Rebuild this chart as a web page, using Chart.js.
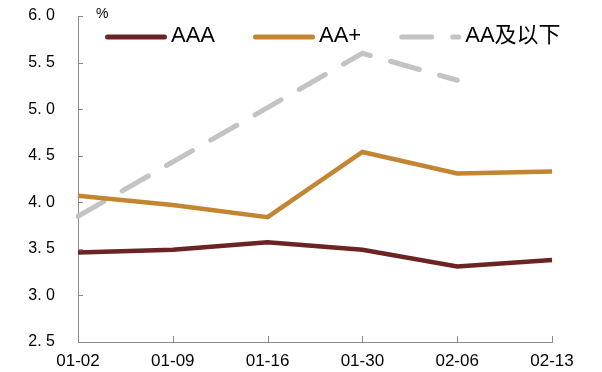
<!DOCTYPE html>
<html>
<head>
<meta charset="utf-8">
<script src="https://cdn.jsdelivr.net/npm/chart.js@4/dist/chart.umd.min.js"></script>
<style>
  html, body { margin: 0; padding: 0; background: #fff; overflow: hidden; }
  canvas { display: block; }
</style>
</head>
<body>
<canvas id="rateChart" width="602" height="372"></canvas>
<script>
// dates on the x axis
const dates = ['01-02', '01-09', '01-16', '01-30', '02-06', '02-13'];
// yields, %
const aaa = [3.46, 3.49, 3.57, 3.49, 3.31, 3.38];
const aaPlus = [4.07, 3.97, 3.84, 4.54, 4.31, 4.33];
const aaBelow = [3.85, null, null, 5.60, 5.31, null];
// y tick labels, bottom to top
const yLabels = ['2. 5', '3. 0', '3. 5', '4. 0', '4. 5', '5. 0', '5. 5', '6. 0'];

const axisGray = '#8a8a8a';
const latin = '"Liberation Sans", "Noto Sans CJK SC", sans-serif';

// inward tick marks on both axes
const innerTicks = {
    id: 'innerTicks',
    afterDraw(chart) {
        const ctx = chart.ctx;
        const area = chart.chartArea;
        const xs = chart.scales.x;
        const ys = chart.scales.y;
        ctx.save();
        ctx.strokeStyle = axisGray;
        ctx.lineWidth = 1;
        ctx.beginPath();
        ys.ticks.forEach((t, i) => {
            const py = Math.round(ys.getPixelForTick(i)) + 0.5;
            ctx.moveTo(area.left, py);
            ctx.lineTo(area.left + 5, py);
        });
        xs.ticks.forEach((t, i) => {
            const px = Math.round(xs.getPixelForTick(i)) + 0.5;
            ctx.moveTo(px, area.bottom);
            ctx.lineTo(px, area.bottom - 6);
        });
        ctx.stroke();
        ctx.restore();
    }
};

// legend drawn as long line samples inside the plot
const lineLegend = {
    id: 'lineLegend',
    afterDraw(chart) {
        const ctx = chart.ctx;
        const area = chart.chartArea;
        let x = area.left + 27;
        const y = area.top + 21;
        ctx.save();
        ctx.font = '22px ' + latin;
        ctx.textBaseline = 'middle';
        chart.data.datasets.forEach(ds => {
            ctx.beginPath();
            ctx.strokeStyle = ds.borderColor;
            ctx.lineWidth = 5;
            ctx.lineCap = 'round';
            ctx.setLineDash(ds.borderDash || []);
            ctx.moveTo(x + 2.5, y);
            ctx.lineTo(x + 59.5, y);
            ctx.stroke();
            ctx.setLineDash([]);
            ctx.fillStyle = '#000';
            ctx.fillText(ds.label, x + 66, y - 1);
            x += 66 + ctx.measureText(ds.label).width + 38;
        });
        // unit
        ctx.font = '14px ' + latin;
        ctx.fillText('%', area.left + 18, area.top - 2);
        ctx.restore();
    }
};

new Chart(document.getElementById('rateChart'), {
    type: 'line',
    data: {
        labels: dates,
        datasets: [
            { label: 'AAA', data: aaa, borderColor: '#6b2324', borderWidth: 4.5 },
            { label: 'AA+', data: aaPlus, borderColor: '#c38532', borderWidth: 4.5 },
            { label: 'AA及以下', data: aaBelow, borderColor: '#c3c3c3', borderWidth: 5,
              borderDash: [30, 21], borderCapStyle: 'round', spanGaps: true }
        ]
    },
    options: {
        responsive: false,
        animation: false,
        events: [],
        layout: { padding: { left: 0, right: 50, top: 16, bottom: 0 } },
        elements: {
            point: { radius: 0 },
            line: { tension: 0, fill: false }
        },
        scales: {
            x: {
                offset: false,
                afterFit(scale) {
                    scale.height = 30;
                    scale.paddingLeft = 0;
                    scale.paddingRight = 0;
                },
                border: { display: true, color: axisGray, width: 1 },
                grid: { drawOnChartArea: false, tickLength: -6, color: 'rgba(0,0,0,0)' },
                ticks: { color: '#000', padding: 15, maxRotation: 0, autoSkip: false,
                         font: { family: latin, size: 17 } }
            },
            y: {
                min: 2.5,
                max: 6.0,
                afterFit(scale) {
                    scale.width = 78;
                    scale.paddingTop = 0;
                    scale.paddingBottom = 0;
                },
                border: { display: true, color: axisGray, width: 1 },
                grid: { drawOnChartArea: false, tickLength: -5, color: 'rgba(0,0,0,0)' },
                ticks: { stepSize: 0.5, color: '#000', padding: 28,
                         font: { family: latin, size: 16 },
                         callback: (v, i) => yLabels[i] }
            }
        },
        plugins: {
            legend: { display: false },
            tooltip: { enabled: false }
        }
    },
    plugins: [innerTicks, lineLegend]
});
</script>
</body>
</html>
